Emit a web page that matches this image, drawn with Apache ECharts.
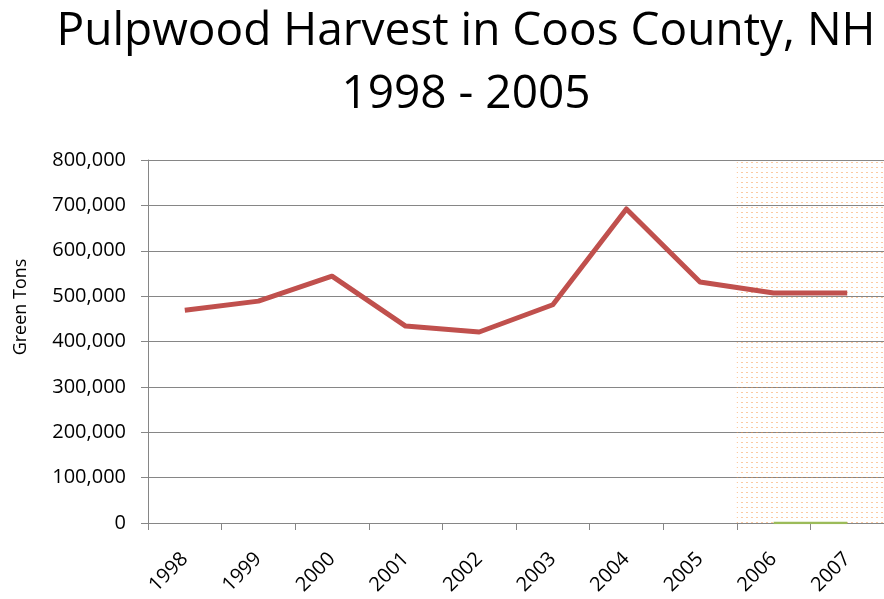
<!DOCTYPE html>
<html>
<head>
<meta charset="utf-8">
<script src="https://cdn.jsdelivr.net/npm/echarts@6/dist/echarts.min.js"></script>
<style>
  html, body { margin: 0; padding: 0; background: #fff; }
  #chart { width: 884px; height: 599px; }
</style>
</head>
<body>
<div id="chart"></div>
<script>
// Harvest years on the category axis
const years = ['1998', '1999', '2000', '2001', '2002', '2003', '2004', '2005', '2006', '2007'];
// Pulpwood harvest, green tons
const harvest = [469000, 489000, 544000, 434000, 421000, 481000, 692000, 531000, 507000, 507000];
// Second series, only present for the final two years
const secondary = [null, null, null, null, null, null, null, null, 0, 0];
// Years covered by the shaded block
const shadedYears = ['2006', '2007'];
const yMax = 800000;
const yStep = 100000;

// Small dotted tile used to fill the shaded block
function dotPattern() {
  const c = document.createElement('canvas');
  c.width = 5; c.height = 5;
  const ctx = c.getContext('2d');
  ctx.fillStyle = 'rgba(247,150,70,0.5)';
  ctx.fillRect(1, 2, 2, 1);
  return c;
}

const shadedData = years.map(y => shadedYears.includes(y) ? yMax : null);

const chart = echarts.init(document.getElementById('chart'));
const FONT = 'Open Sans';
chart.setOption({
  animation: false,
  backgroundColor: '#ffffff',
  grid: { left: 148, right: 0, top: 160, bottom: 76, containLabel: false },
  graphic: [
    { type: 'text', x: 466, y: 32, style: { text: 'Pulpwood Harvest in Coos County, NH', font: '46px "Open Sans"', fill: '#000', align: 'center', verticalAlign: 'middle' } },
    { type: 'text', x: 466, y: 95, style: { text: '1998 - 2005', font: '46px "Open Sans"', fill: '#000', align: 'center', verticalAlign: 'middle' } },
    { type: 'text', x: 21, y: 307, rotation: Math.PI / 2, style: { text: 'Green Tons', font: '18px "Open Sans"', fill: '#000', align: 'center', verticalAlign: 'middle' } }
  ],
  xAxis: {
    type: 'category',
    data: years,
    boundaryGap: true,
    axisLine: { lineStyle: { color: '#868686', width: 1 } },
    axisTick: { show: true, length: 7, lineStyle: { color: '#868686' } },
    axisLabel: { rotate: 45, margin: 33, fontFamily: FONT, fontSize: 20, color: '#000', interval: 0 }
  },
  yAxis: {
    type: 'value',
    min: 0, max: yMax, interval: yStep,
    axisLine: { show: true, lineStyle: { color: '#868686', width: 1 } },
    axisTick: { show: true, length: 7, lineStyle: { color: '#868686' } },
    splitLine: { show: true, lineStyle: { color: '#868686', width: 1 } },
    axisLabel: {
      margin: 22, fontFamily: FONT, fontSize: 20, color: '#000',
      formatter: v => v.toLocaleString('en-US')
    }
  },
  series: [
    {
      type: 'bar',
      data: shadedData,
      barCategoryGap: '0%',
      itemStyle: { color: { image: dotPattern(), repeat: 'repeat' } },
      z: 1,
      silent: true
    },
    {
      type: 'line',
      data: harvest,
      showSymbol: false,
      symbol: 'none',
      lineStyle: { color: '#C0504D', width: 5, join: 'round' },
      z: 3
    },
    {
      type: 'line',
      data: secondary,
      showSymbol: false,
      symbol: 'none',
      lineStyle: { color: '#9BBB59', width: 2.5 },
      z: 3
    }
  ]
});
</script>
</body>
</html>
